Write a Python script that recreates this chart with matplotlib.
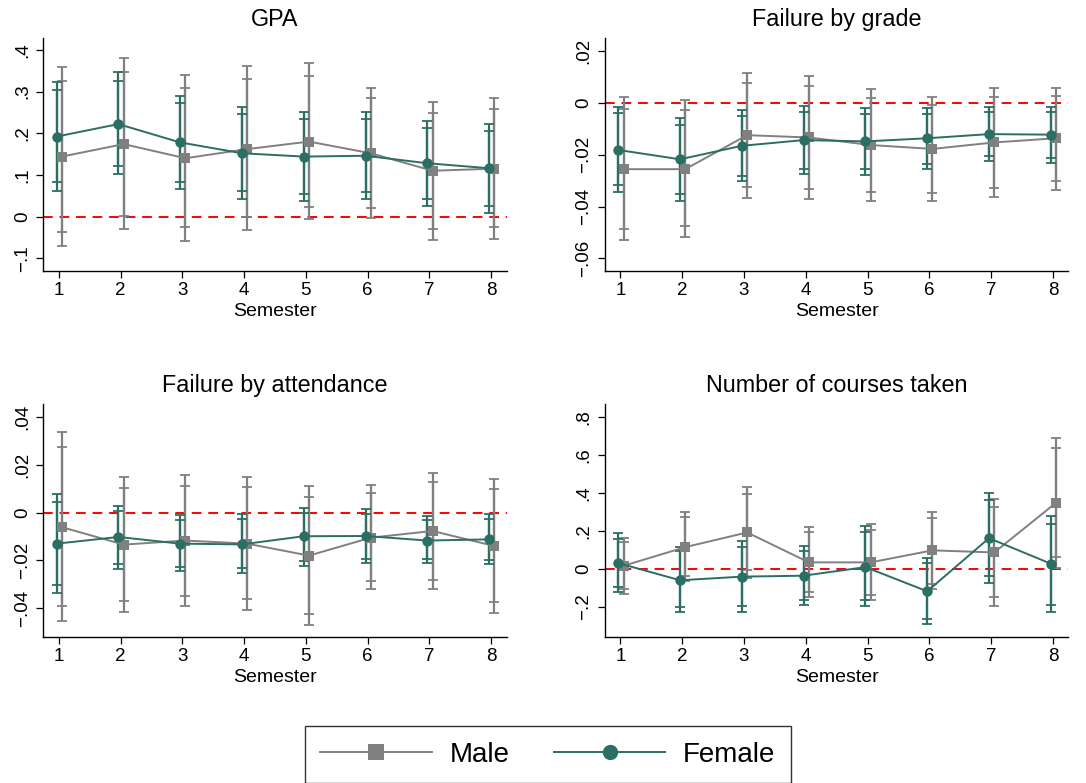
import matplotlib
matplotlib.use("Agg")
import numpy as np
import matplotlib.pyplot as plt
from matplotlib.lines import Line2D
from matplotlib.ticker import FixedLocator, FuncFormatter

plt.rcParams['font.family'] = ['Liberation Sans', 'DejaVu Sans']

semesters = [1, 2, 3, 4, 5, 6, 7, 8]

# ---- GPA ----
gpa_f_est = [0.192, 0.222, 0.178, 0.152, 0.144, 0.146, 0.128, 0.116]
gpa_f_hi95 = [0.324, 0.346, 0.290, 0.264, 0.252, 0.250, 0.230, 0.222]
gpa_f_hi90 = [0.304, 0.326, 0.273, 0.246, 0.235, 0.234, 0.213, 0.206]
gpa_f_lo90 = [0.082, 0.122, 0.084, 0.062, 0.054, 0.059, 0.042, 0.026]
gpa_f_lo95 = [0.062, 0.102, 0.066, 0.043, 0.037, 0.042, 0.026, 0.008]
gpa_m_est = [0.144, 0.174, 0.140, 0.162, 0.180, 0.152, 0.110, 0.115]
gpa_m_hi95 = [0.358, 0.380, 0.339, 0.362, 0.368, 0.309, 0.276, 0.285]
gpa_m_hi90 = [0.325, 0.348, 0.308, 0.330, 0.338, 0.284, 0.248, 0.258]
gpa_m_lo90 = [-0.036, 0.002, -0.026, -0.002, 0.023, 0.021, -0.030, -0.026]
gpa_m_lo95 = [-0.070, -0.030, -0.058, -0.032, -0.007, -0.004, -0.057, -0.054]

# ---- Failure by grade ----
grade_f_est = [-0.0182, -0.0218, -0.0166, -0.0144, -0.0149, -0.0137, -0.0121, -0.0123]
grade_f_hi95 = [-0.0015, -0.0058, -0.0028, -0.0013, -0.0021, -0.0022, -0.0018, -0.0018]
grade_f_hi90 = [-0.0041, -0.0086, -0.0050, -0.0035, -0.0042, -0.0042, -0.0036, -0.0036]
grade_f_lo90 = [-0.0318, -0.0352, -0.0281, -0.0254, -0.0257, -0.0235, -0.0207, -0.0213]
grade_f_lo95 = [-0.0345, -0.0379, -0.0303, -0.0276, -0.0280, -0.0255, -0.0225, -0.0232]
grade_m_est = [-0.0256, -0.0256, -0.0125, -0.0134, -0.0163, -0.0178, -0.0153, -0.0137]
grade_m_hi95 = [0.0021, 0.0012, 0.0116, 0.0101, 0.0054, 0.0023, 0.0058, 0.0058]
grade_m_hi90 = [-0.0023, -0.0030, 0.0077, 0.0064, 0.0018, -0.0009, 0.0023, 0.0026]
grade_m_lo90 = [-0.0485, -0.0475, -0.0326, -0.0334, -0.0344, -0.0347, -0.0329, -0.0302]
grade_m_lo95 = [-0.0529, -0.0517, -0.0366, -0.0372, -0.0380, -0.0379, -0.0362, -0.0335]

# ---- Failure by attendance ----
att_f_est = [-0.0130, -0.0102, -0.0130, -0.0133, -0.0099, -0.0098, -0.0117, -0.0112]
att_f_hi95 = [0.0077, 0.0028, -0.0011, -0.0008, 0.0021, 0.0013, -0.0015, -0.0006]
att_f_hi90 = [0.0043, 0.0006, -0.0032, -0.0029, 0.0000, -0.0004, -0.0032, -0.0025]
att_f_lo90 = [-0.0302, -0.0214, -0.0228, -0.0233, -0.0203, -0.0193, -0.0196, -0.0198]
att_f_lo95 = [-0.0337, -0.0235, -0.0246, -0.0251, -0.0223, -0.0211, -0.0211, -0.0216]
att_m_est = [-0.0061, -0.0134, -0.0117, -0.0130, -0.0180, -0.0105, -0.0077, -0.0140]
att_m_hi95 = [0.0337, 0.0148, 0.0155, 0.0148, 0.0112, 0.0115, 0.0166, 0.0141]
att_m_hi90 = [0.0274, 0.0103, 0.0112, 0.0106, 0.0066, 0.0080, 0.0128, 0.0098]
att_m_lo90 = [-0.0392, -0.0370, -0.0348, -0.0363, -0.0423, -0.0285, -0.0281, -0.0373]
att_m_lo95 = [-0.0455, -0.0415, -0.0391, -0.0408, -0.0469, -0.0321, -0.0318, -0.0418]

# ---- Number of courses taken ----
crs_f_est = [0.031, -0.059, -0.040, -0.035, 0.010, -0.117, 0.162, 0.028]
crs_f_hi95 = [0.187, 0.114, 0.147, 0.119, 0.224, 0.059, 0.398, 0.279]
crs_f_hi90 = [0.159, 0.096, 0.115, 0.096, 0.192, 0.031, 0.362, 0.239]
crs_f_lo90 = [-0.094, -0.199, -0.196, -0.161, -0.161, -0.262, -0.037, -0.187]
crs_f_lo95 = [-0.120, -0.227, -0.227, -0.187, -0.192, -0.288, -0.073, -0.227]
crs_m_est = [0.017, 0.115, 0.192, 0.035, 0.035, 0.098, 0.087, 0.348]
crs_m_hi95 = [0.164, 0.299, 0.433, 0.220, 0.238, 0.299, 0.370, 0.688]
crs_m_hi90 = [0.141, 0.271, 0.395, 0.192, 0.204, 0.269, 0.328, 0.634]
crs_m_lo90 = [-0.107, -0.038, -0.007, -0.120, -0.134, -0.077, -0.148, 0.061]
crs_m_lo95 = [-0.131, -0.065, -0.045, -0.148, -0.164, -0.105, -0.192, 0.003]

titles = ["GPA", "Failure by grade", "Failure by attendance", "Number of courses taken"]
yticks = [
    [-0.1, 0, 0.1, 0.2, 0.3, 0.4],
    [-0.06, -0.04, -0.02, 0, 0.02],
    [-0.04, -0.02, 0, 0.02, 0.04],
    [-0.2, 0, 0.2, 0.4, 0.6, 0.8],
]
ylims = [(-0.130, 0.428), (-0.0647, 0.0248), (-0.0521, 0.04525), (-0.358, 0.865)]

MALE_COLOR = "#808080"
FEMALE_COLOR = "#2b6e63"

W, H = 1086, 783
fig = plt.figure(figsize=(W / 100, H / 100), dpi=100)


def px_axes(left, top, right, bottom):
    return fig.add_axes([left / W, 1 - bottom / H, (right - left) / W, (bottom - top) / H])


def stata_label(v, pos=None):
    v = round(v, 6)
    if v == 0:
        return "0"
    s = f"{abs(v):g}"
    if s.startswith("0."):
        s = s[1:]
    return ("\u2212" if v < 0 else "") + s


def draw_series(ax, x, est, lo95, hi95, lo90, hi90, color, marker, ms):
    est = np.asarray(est)
    for lo, hi in ((lo95, hi95), (lo90, hi90)):
        err = [est - np.asarray(lo), np.asarray(hi) - est]
        ax.errorbar(x, est, yerr=err, fmt="none", ecolor=color, elinewidth=1.6,
                    capsize=3.6, capthick=1.3, zorder=3)
    ax.plot(x, est, color=color, lw=1.4, marker=marker, ms=ms,
            markeredgewidth=0, zorder=4)


panels = [
    ((gpa_m_est, gpa_m_lo95, gpa_m_hi95, gpa_m_lo90, gpa_m_hi90),
     (gpa_f_est, gpa_f_lo95, gpa_f_hi95, gpa_f_lo90, gpa_f_hi90)),
    ((grade_m_est, grade_m_lo95, grade_m_hi95, grade_m_lo90, grade_m_hi90),
     (grade_f_est, grade_f_lo95, grade_f_hi95, grade_f_lo90, grade_f_hi90)),
    ((att_m_est, att_m_lo95, att_m_hi95, att_m_lo90, att_m_hi90),
     (att_f_est, att_f_lo95, att_f_hi95, att_f_lo90, att_f_hi90)),
    ((crs_m_est, crs_m_lo95, crs_m_hi95, crs_m_lo90, crs_m_hi90),
     (crs_f_est, crs_f_lo95, crs_f_hi95, crs_f_lo90, crs_f_hi90)),
]

boxes = [
    (43.3, 38.3, 506.7, 270.7),
    (605.0, 38.3, 1068.4, 270.7),
    (43.3, 404.3, 506.7, 637.2),
    (605.0, 404.3, 1068.4, 637.2),
]

x = np.asarray(semesters, dtype=float)
for i, (box, (male, female)) in enumerate(zip(boxes, panels)):
    ax = px_axes(*box)
    ax.axhline(0, color="red", lw=1.4, ls=(0, (5, 3.5)), zorder=2)
    draw_series(ax, x + 0.05, *male, MALE_COLOR, "s", 7.5)
    draw_series(ax, x - 0.035, *female, FEMALE_COLOR, "o", 7.5)

    ax.set_xlim(0.75, 8.25)
    ax.set_ylim(*ylims[i])
    ax.set_xticks(semesters)
    ax.yaxis.set_major_locator(FixedLocator(yticks[i]))
    ax.yaxis.set_major_formatter(FuncFormatter(stata_label))
    for s in ("top", "right"):
        ax.spines[s].set_visible(False)
    for s in ("left", "bottom"):
        ax.spines[s].set_linewidth(1.0)
    ax.tick_params(axis="both", direction="out", length=5, width=0.9,
                   labelsize=13.5, colors="black")
    ax.tick_params(axis="x", pad=3)
    ax.tick_params(axis="y", pad=4)
    for lab in ax.get_yticklabels():
        lab.set_rotation(90)
        lab.set_va("center")
    ax.set_xlabel("Semester", fontsize=14, labelpad=3)
    ax.set_title(titles[i], fontsize=16.8, pad=8.5)

handles = [
    Line2D([], [], color=MALE_COLOR, lw=1.4, marker="s", ms=11, markeredgewidth=0),
    Line2D([], [], color=FEMALE_COLOR, lw=1.4, marker="o", ms=11, markeredgewidth=0),
]
leg = fig.legend(handles, ["Male", "Female"], loc="center",
                 bbox_to_anchor=(548 / W, 1 - 754.5 / H), ncol=2, fontsize=20,
                 frameon=True, fancybox=False, edgecolor="black",
                 handlelength=4.0, handletextpad=0.65, columnspacing=1.6,
                 borderpad=0.55)
leg.get_frame().set_linewidth(1.0)

fig.savefig("out.png", dpi=100, facecolor="white")
